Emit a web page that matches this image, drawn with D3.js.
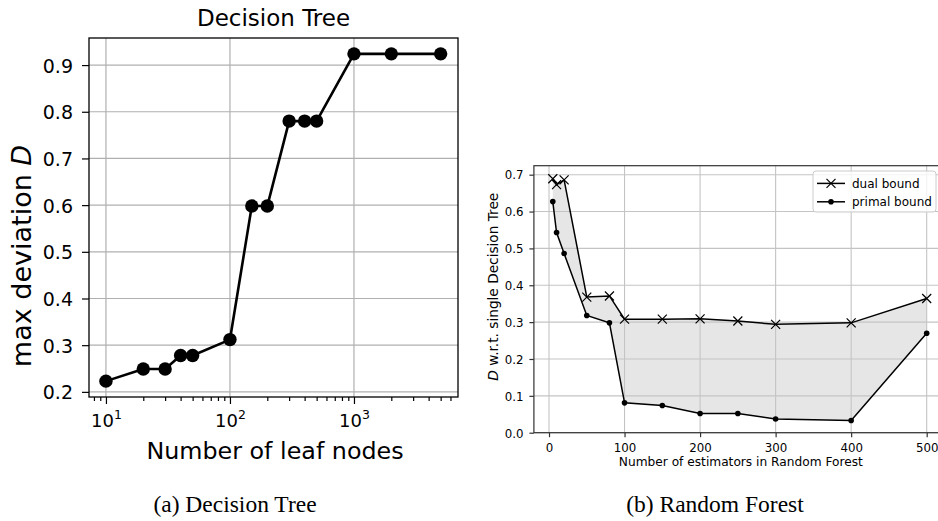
<!DOCTYPE html>
<html>
<head>
<meta charset="utf-8">
<script src="https://cdn.jsdelivr.net/npm/d3@7"></script>
<style>
	body { margin: 0; background: #fff; }
	svg { display: block; }
</style>
</head>
<body>
<script>
// (a) decision tree
const leafNodes = [10, 20, 30, 40, 50, 100, 150, 200, 300, 400, 500, 1000, 2000, 5000]
const maxDeviation = [0.223, 0.249, 0.249, 0.278, 0.278, 0.312, 0.598, 0.598, 0.780, 0.780, 0.780, 0.924, 0.924, 0.924]
const leafTicks = [10, 100, 1000]
const deviationTicks = [0.2, 0.3, 0.4, 0.5, 0.6, 0.7, 0.8, 0.9]

// (b) random forest
const estimators = [5, 10, 20, 50, 80, 100, 150, 200, 250, 300, 400, 500]
const dualBound = [0.689, 0.673, 0.686, 0.368, 0.371, 0.308, 0.308, 0.309, 0.303, 0.294, 0.298, 0.364]
const primalBound = [0.627, 0.543, 0.486, 0.318, 0.298, 0.081, 0.074, 0.052, 0.052, 0.037, 0.033, 0.270]
const estimatorTicks = [0, 100, 200, 300, 400, 500]
const boundTicks = [0, 0.1, 0.2, 0.3, 0.4, 0.5, 0.6, 0.7]
const legendLabels = ['dual bound', 'primal bound']

const width = 938
const height = 521
const sans = 'DejaVu Sans'

const svg = d3.select('body')
	.append('svg')
	.attr('width', width)
	.attr('height', height)

const addText = (parent, x, y, size, anchor, rotate) => parent.append('text')
	.attr('transform', `translate(${x},${y})${rotate ? ' rotate(-90)' : ''}`)
	.attr('font-family', sans)
	.attr('font-size', size)
	.attr('text-anchor', anchor)
	.attr('fill', '#000')

const styleTicks = (g, color) => {
	g.select('.domain').remove()
	g.selectAll('.tick line').attr('stroke', color).attr('stroke-width', 1.2)
	g.selectAll('.tick text').remove()
}

// ---------- left panel ----------
const L = { x0: 89, x1: 458, y0: 38, y1: 397 }

const xLog = d3.scaleLog()
	.domain([7.3, 6900])
	.range([L.x0, L.x1])

const yLeft = d3.scaleLinear()
	.domain([0.189, 0.958])
	.range([L.y1, L.y0])

const gl = svg.append('g')

gl.selectAll('.vgrid')
	.data(leafTicks)
	.join('line')
	.attr('x1', d => xLog(d)).attr('x2', d => xLog(d))
	.attr('y1', L.y0).attr('y2', L.y1)
	.attr('stroke', '#b0b0b0')
	.attr('stroke-width', 1.2)

gl.selectAll('.hgrid')
	.data(deviationTicks)
	.join('line')
	.attr('x1', L.x0).attr('x2', L.x1)
	.attr('y1', d => yLeft(d)).attr('y2', d => yLeft(d))
	.attr('stroke', '#b0b0b0')
	.attr('stroke-width', 1.2)

const treeLine = d3.line()
	.x((d, i) => xLog(leafNodes[i]))
	.y(d => yLeft(d))

gl.append('path')
	.attr('d', treeLine(maxDeviation))
	.attr('fill', 'none')
	.attr('stroke', '#000')
	.attr('stroke-width', 2.6)
	.attr('stroke-linejoin', 'round')

gl.selectAll('.dot')
	.data(maxDeviation)
	.join('circle')
	.attr('cx', (d, i) => xLog(leafNodes[i]))
	.attr('cy', d => yLeft(d))
	.attr('r', 6.7)
	.attr('fill', '#000')

// minor ticks on the log axis
gl.append('g')
	.attr('transform', `translate(0,${L.y1})`)
	.call(d3.axisBottom(xLog).tickValues(xLog.ticks().filter(d => !leafTicks.includes(d))).tickSize(4).tickFormat(''))
	.call(g => styleTicks(g, '#000'))

const xAxisL = gl.append('g')
	.attr('transform', `translate(0,${L.y1})`)
	.call(d3.axisBottom(xLog).tickValues(leafTicks).tickSize(7).tickFormat(''))
	.call(g => styleTicks(g, '#000'))

xAxisL.selectAll('.tick').each(function (d) {
	const t = addText(d3.select(this), 0, 30, 18, 'middle')
	t.append('tspan').text('10')
	t.append('tspan').attr('font-size', 12.5).attr('dy', -8).text(Math.round(Math.log10(d)))
})

const yAxisL = gl.append('g')
	.attr('transform', `translate(${L.x0},0)`)
	.call(d3.axisLeft(yLeft).tickValues(deviationTicks).tickSize(7).tickFormat(''))
	.call(g => styleTicks(g, '#000'))

yAxisL.selectAll('.tick').each(function (d) {
	addText(d3.select(this), -16, 7, 19, 'end').text(d3.format('.1f')(d))
})

gl.append('rect')
	.attr('x', L.x0).attr('y', L.y0)
	.attr('width', L.x1 - L.x0).attr('height', L.y1 - L.y0)
	.attr('fill', 'none')
	.attr('stroke', '#000')
	.attr('stroke-width', 1.3)

addText(gl, 273.5, 26, 23, 'middle').text('Decision Tree')
addText(gl, 275, 459, 23.8, 'middle').text('Number of leaf nodes')

const ylabL = addText(gl, 31, 256, 27, 'middle', true)
ylabL.append('tspan').text('max deviation ')
ylabL.append('tspan').attr('font-style', 'italic').text('D')

// ---------- right panel ----------
const R = { x0: 533.9, x1: 941.8, y0: 165.7, y1: 432.7 }

const xLin = d3.scaleLinear()
	.domain([-20, 520])
	.range([R.x0, R.x1])

const yRight = d3.scaleLinear()
	.domain([0, 0.7244])
	.range([R.y1, R.y0])

const gr = svg.append('g')

const forest = estimators.map((e, i) => ({ e, dual: dualBound[i], primal: primalBound[i] }))

gr.append('path')
	.attr('d', d3.area().x(d => xLin(d.e)).y0(d => yRight(d.primal)).y1(d => yRight(d.dual))(forest))
	.attr('fill', '#e6e6e6')

gr.selectAll('.vgrid')
	.data(estimatorTicks)
	.join('line')
	.attr('x1', d => xLin(d)).attr('x2', d => xLin(d))
	.attr('y1', R.y0).attr('y2', R.y1)
	.attr('stroke', '#c4c4c4')
	.attr('stroke-width', 1.1)

gr.selectAll('.hgrid')
	.data(boundTicks)
	.join('line')
	.attr('x1', R.x0).attr('x2', R.x1)
	.attr('y1', d => yRight(d)).attr('y2', d => yRight(d))
	.attr('stroke', '#c4c4c4')
	.attr('stroke-width', 1.1)

const crossPath = 'M-4.5,-4.5L4.5,4.5M-4.5,4.5L4.5,-4.5'

const boundLine = key => d3.line().x(d => xLin(d.e)).y(d => yRight(d[key]))

gr.append('path')
	.attr('d', boundLine('dual')(forest))
	.attr('fill', 'none')
	.attr('stroke', '#000')
	.attr('stroke-width', 1.5)

gr.append('path')
	.attr('d', boundLine('primal')(forest))
	.attr('fill', 'none')
	.attr('stroke', '#000')
	.attr('stroke-width', 1.5)

gr.selectAll('.cross')
	.data(forest)
	.join('path')
	.attr('transform', d => `translate(${xLin(d.e)},${yRight(d.dual)})`)
	.attr('d', crossPath)
	.attr('stroke', '#000')
	.attr('stroke-width', 1.2)
	.attr('fill', 'none')

gr.selectAll('.pdot')
	.data(forest)
	.join('circle')
	.attr('cx', d => xLin(d.e))
	.attr('cy', d => yRight(d.primal))
	.attr('r', 2.8)
	.attr('fill', '#000')

const xAxisR = gr.append('g')
	.attr('transform', `translate(0,${R.y1})`)
	.call(d3.axisBottom(xLin).tickValues(estimatorTicks).tickSize(4.5).tickFormat(''))
	.call(g => styleTicks(g, '#333'))

xAxisR.selectAll('.tick').each(function (d) {
	addText(d3.select(this), 0, 18.8, 11.8, 'middle').text(d)
})

const yAxisR = gr.append('g')
	.attr('transform', `translate(${R.x0},0)`)
	.call(d3.axisLeft(yRight).tickValues(boundTicks).tickSize(4.5).tickFormat(''))
	.call(g => styleTicks(g, '#333'))

yAxisR.selectAll('.tick').each(function (d) {
	addText(d3.select(this), -10.5, 4.3, 11.8, 'end').text(d3.format('.1f')(d))
})

gr.append('rect')
	.attr('x', R.x0).attr('y', R.y0)
	.attr('width', R.x1 - R.x0).attr('height', R.y1 - R.y0)
	.attr('fill', 'none')
	.attr('stroke', '#333')
	.attr('stroke-width', 1.2)

addText(gr, 740.8, 466, 12.2, 'middle').text('Number of estimators in Random Forest')

const ylabR = addText(gr, 497.5, 286.7, 13.7, 'middle', true)
ylabR.append('tspan').attr('font-style', 'italic').text('D')
ylabR.append('tspan').text(' w.r.t. single Decision Tree')

// legend
const legend = gr.append('g')

legend.append('rect')
	.attr('x', 813).attr('y', 171)
	.attr('width', 123).attr('height', 41)
	.attr('rx', 3)
	.attr('fill', '#fff')
	.attr('fill-opacity', 0.8)
	.attr('stroke', '#ccc')

const rows = legend.selectAll('.row')
	.data(legendLabels)
	.join('g')
	.attr('transform', (d, i) => `translate(817,${183.4 + i * 18.4})`)

rows.append('line')
	.attr('x1', 0).attr('x2', 28)
	.attr('stroke', '#000')
	.attr('stroke-width', 1.5)

rows.filter((d, i) => i === 0)
	.append('path')
	.attr('transform', 'translate(14,0)')
	.attr('d', crossPath)
	.attr('stroke', '#000')
	.attr('stroke-width', 1.2)

rows.filter((d, i) => i === 1)
	.append('circle')
	.attr('cx', 14)
	.attr('r', 2.8)
	.attr('fill', '#000')

rows.each(function (d) {
	addText(d3.select(this), 35, 4.3, 12, 'start').text(d)
})

// captions
svg.append('text')
	.attr('x', 235).attr('y', 512)
	.attr('text-anchor', 'middle')
	.attr('font-family', 'Liberation Serif')
	.attr('font-size', 23.5)
	.text('(a) Decision Tree')

svg.append('text')
	.attr('x', 715).attr('y', 512)
	.attr('text-anchor', 'middle')
	.attr('font-family', 'Liberation Serif')
	.attr('font-size', 23.5)
	.text('(b) Random Forest')
</script>
</body>
</html>
